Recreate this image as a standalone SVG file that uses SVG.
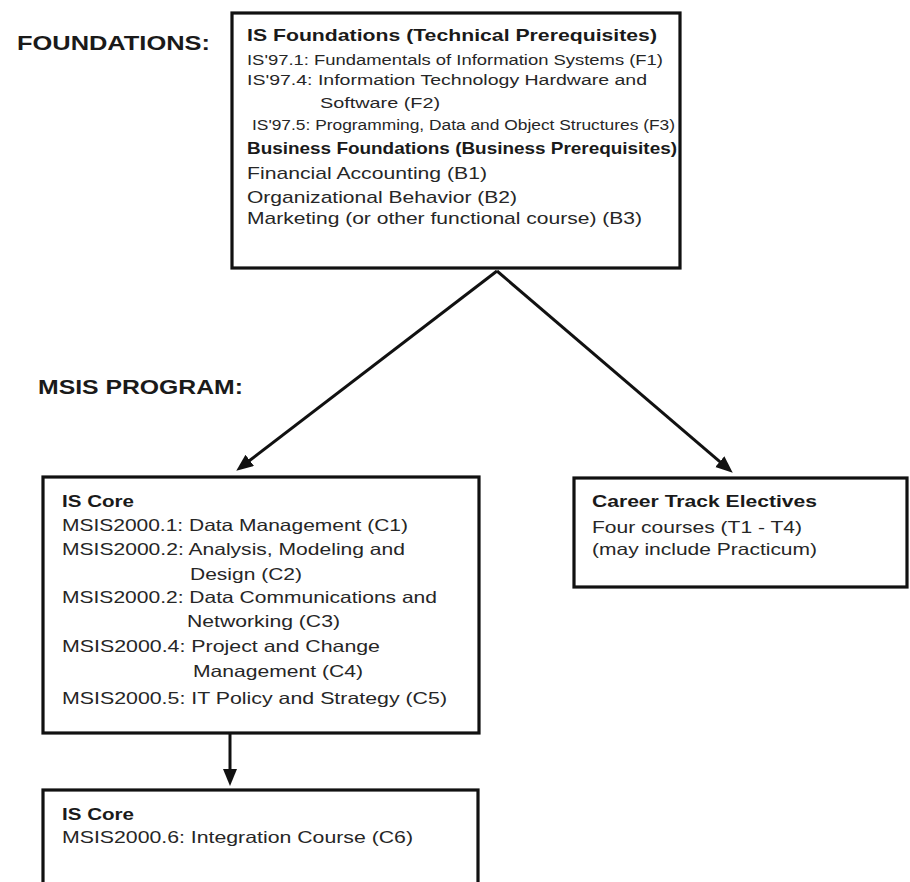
<svg xmlns="http://www.w3.org/2000/svg" width="910" height="882" viewBox="0 0 910 882">
<style>
text{font-family:"Liberation Sans",Arial,sans-serif;fill:#262626}
.hd{font-size:21px;font-weight:bold;fill:#1a1a1a}
.tt{font-size:17px;font-weight:bold;fill:#1a1a1a}
.sm{font-size:15.5px}
.md{font-size:16.5px}
.lg{font-size:17px}
.box{fill:#fff;stroke:#111;stroke-width:3.2}
.conn{stroke:#111;stroke-width:3;fill:none}
</style>
<defs>
<marker id="ah" markerUnits="userSpaceOnUse" markerWidth="20" markerHeight="16" refX="8" refY="7" orient="auto">
<path d="M0,0 L17,7 L0,14 z" fill="#111"/>
</marker>
</defs>
<rect width="910" height="882" fill="#fff"/>
<text class="hd" x="17" y="50" textLength="193" lengthAdjust="spacingAndGlyphs">FOUNDATIONS:</text>
<text class="hd" x="38" y="394" textLength="205" lengthAdjust="spacingAndGlyphs">MSIS PROGRAM:</text>
<g id="connectors">
<line class="conn" x1="497" y1="271" x2="243.4" y2="465.2" marker-end="url(#ah)"/>
<line class="conn" x1="497" y1="271" x2="725.9" y2="466.8" marker-end="url(#ah)"/>
<line class="conn" x1="230" y1="733" x2="230" y2="777" marker-end="url(#ah)"/>
</g>
<g id="foundations">
<rect class="box" x="232" y="13" width="448" height="255"/>
<text class="tt" x="247" y="41" textLength="410" lengthAdjust="spacingAndGlyphs">IS Foundations (Technical Prerequisites)</text>
<text class="sm" x="247" y="65" textLength="416" lengthAdjust="spacingAndGlyphs">IS'97.1:  Fundamentals of Information Systems (F1)</text>
<text class="sm" x="247" y="85" textLength="400" lengthAdjust="spacingAndGlyphs">IS'97.4:  Information Technology Hardware and</text>
<text class="sm" x="320" y="108" textLength="120" lengthAdjust="spacingAndGlyphs">Software  (F2)</text>
<text class="sm" x="252" y="130" textLength="423" lengthAdjust="spacingAndGlyphs">IS'97.5:  Programming, Data and Object Structures (F3)</text>
<text class="tt" x="247" y="154" textLength="430" lengthAdjust="spacingAndGlyphs">Business Foundations  (Business Prerequisites)</text>
<text class="lg" x="247" y="179" textLength="240" lengthAdjust="spacingAndGlyphs">Financial Accounting (B1)</text>
<text class="lg" x="247" y="203" textLength="270" lengthAdjust="spacingAndGlyphs">Organizational Behavior (B2)</text>
<text class="lg" x="247" y="224" textLength="395" lengthAdjust="spacingAndGlyphs">Marketing (or other functional course) (B3)</text>
</g>
<g id="is-core">
<rect class="box" x="43" y="477" width="436" height="256"/>
<text class="tt" x="62" y="507" textLength="72" lengthAdjust="spacingAndGlyphs">IS Core</text>
<text class="md" x="62" y="531" textLength="346" lengthAdjust="spacingAndGlyphs">MSIS2000.1: Data Management (C1)</text>
<text class="md" x="62" y="555" textLength="343" lengthAdjust="spacingAndGlyphs">MSIS2000.2: Analysis, Modeling and</text>
<text class="md" x="190" y="580" textLength="112" lengthAdjust="spacingAndGlyphs">Design (C2)</text>
<text class="md" x="62" y="603" textLength="375" lengthAdjust="spacingAndGlyphs">MSIS2000.2: Data Communications and</text>
<text class="md" x="187" y="627" textLength="153" lengthAdjust="spacingAndGlyphs">Networking (C3)</text>
<text class="md" x="62" y="652" textLength="318" lengthAdjust="spacingAndGlyphs">MSIS2000.4:  Project and Change</text>
<text class="md" x="193" y="677" textLength="170" lengthAdjust="spacingAndGlyphs">Management (C4)</text>
<text class="md" x="62" y="704" textLength="385" lengthAdjust="spacingAndGlyphs">MSIS2000.5:  IT Policy and Strategy (C5)</text>
</g>
<g id="career-track">
<rect class="box" x="574" y="478" width="333" height="109"/>
<text class="tt" x="592" y="507" textLength="225" lengthAdjust="spacingAndGlyphs">Career Track Electives</text>
<text class="md" x="592" y="533" textLength="210" lengthAdjust="spacingAndGlyphs">Four courses (T1 - T4)</text>
<text class="md" x="592" y="555" textLength="225" lengthAdjust="spacingAndGlyphs">(may include Practicum)</text>
</g>
<g id="integration">
<rect class="box" x="43" y="790" width="435" height="110"/>
<text class="tt" x="62" y="820" textLength="72" lengthAdjust="spacingAndGlyphs">IS Core</text>
<text class="md" x="62" y="843" textLength="351" lengthAdjust="spacingAndGlyphs">MSIS2000.6:  Integration Course (C6)</text>
</g>
</svg>
